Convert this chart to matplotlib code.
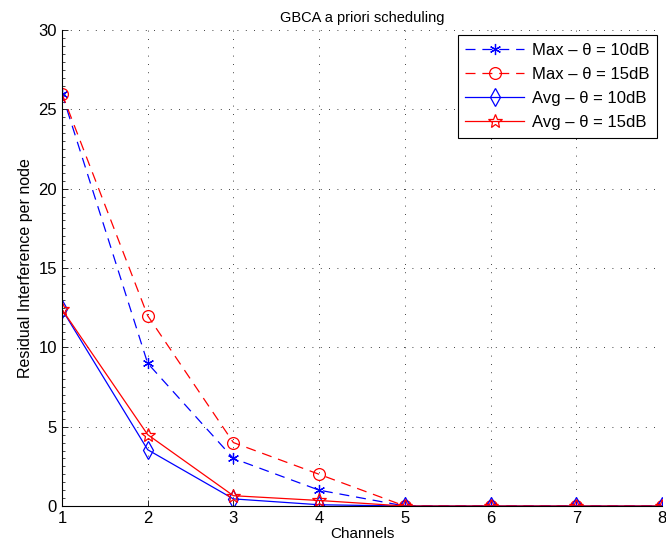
import numpy as np
from matplotlib import pyplot as plt
from matplotlib.ticker import MultipleLocator

plt.rcParams['font.family'] = ['Liberation Sans', 'DejaVu Sans']

# Data
channels = [1, 2, 3, 4, 5, 6, 7, 8]
max_10db = [26.0, 9.0, 3.0, 1.0, 0.0, 0.0, 0.0, 0.0]
max_15db = [26.0, 12.0, 4.0, 2.0, 0.0, 0.0, 0.0, 0.0]
avg_10db = [12.4, 3.55, 0.45, 0.08, 0.0, 0.0, 0.0, 0.0]
avg_15db = [12.4, 4.5, 0.65, 0.35, 0.0, 0.0, 0.0, 0.0]
labels = ['Max – θ = 10dB', 'Max – θ = 15dB', 'Avg – θ = 10dB', 'Avg – θ = 15dB']

fig = plt.figure(figsize=(6.66, 5.54), dpi=100)
ax = fig.add_axes([0.093, 0.0866, 0.901, 0.859])

dash = (0, (8, 5.5))
ax.plot(channels, max_10db, color='blue', linestyle=dash, lw=0.9,
        marker=(6, 2, 0), markersize=8, markeredgewidth=0.9, label=labels[0])
ax.plot(channels, max_15db, color='red', linestyle=dash, lw=0.9,
        marker='o', markersize=8.5, markerfacecolor='none', markeredgewidth=0.9, label=labels[1])
ax.plot(channels, avg_10db, color='blue', lw=0.9,
        marker='d', markersize=9, markerfacecolor='none', markeredgewidth=0.9, label=labels[2])
ax.plot(channels, avg_15db, color='red', lw=0.9,
        marker='*', markersize=10, markerfacecolor='none', markeredgewidth=0.9, label=labels[3])

ax.set_xlim(1, 8)
ax.set_ylim(0, 30)
ax.set_xticks(channels)
ax.set_yticks([0, 5, 10, 15, 20, 25, 30])
ax.yaxis.set_minor_locator(MultipleLocator(0.5))
ax.tick_params(direction='in', labelsize=12, length=4, width=0.6)
ax.tick_params(which='minor', direction='in', length=2, width=0.5)
ax.grid(True, linestyle=(0, (1, 9)), color='black', lw=0.6)

ax.spines['top'].set_visible(False)
ax.spines['right'].set_visible(False)

ax.set_title('GBCA a priori scheduling', fontsize=10.5, pad=6)
ax.set_xlabel('Channels', fontsize=11, labelpad=1)
ax.set_ylabel('Residual Interference per node', fontsize=11.5)

leg = ax.legend(loc='upper right', fontsize=12, fancybox=False, framealpha=1,
                edgecolor='black', handlelength=3.5, handletextpad=0.5,
                labelspacing=0.55, borderpad=0.45, borderaxespad=0.3)
leg.get_frame().set_linewidth(0.8)

fig.savefig('out.png', dpi=100)
